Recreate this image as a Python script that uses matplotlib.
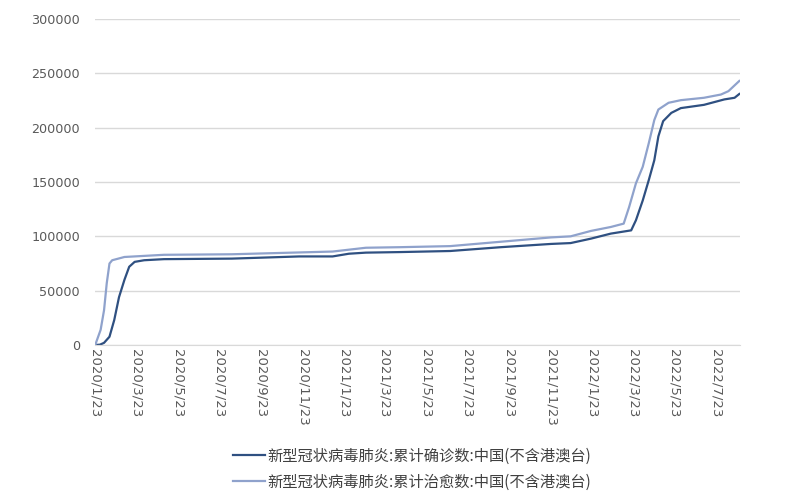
import numpy as np
import pandas as pd
import matplotlib
matplotlib.use('Agg')
import matplotlib.pyplot as plt

plt.rcParams['font.family'] = ['Noto Sans CJK SC', 'DejaVu Sans']

# 累计确诊数 (dark line)
conf_dates = ['2020-01-23', '2020-01-30', '2020-02-05', '2020-02-13', '2020-02-20', '2020-02-27',
              '2020-03-06', '2020-03-13', '2020-03-21', '2020-04-04', '2020-05-03', '2020-08-11',
              '2020-11-18', '2021-01-06', '2021-01-30', '2021-02-24', '2021-04-14', '2021-06-28',
              '2021-09-10', '2021-11-23', '2021-12-22', '2022-01-21', '2022-02-19', '2022-03-21',
              '2022-03-28', '2022-04-07', '2022-04-16', '2022-04-24', '2022-04-30', '2022-05-07',
              '2022-05-19', '2022-06-02', '2022-07-06', '2022-08-05', '2022-08-20', '2022-08-27']
conf_vals = [0, 300, 2000, 7600, 23000, 44000,
             60000, 72000, 76500, 78000, 79000, 79500,
             81500, 81500, 84000, 85000, 85500, 86500,
             90000, 93000, 93800, 97900, 102500, 105500,
             114800, 133000, 152000, 170000, 192000, 206000,
             213600, 218000, 221000, 226000, 227500, 231000]

# 累计治愈数 (light line)
cure_dates = ['2020-01-23', '2020-01-31', '2020-02-05', '2020-02-09', '2020-02-13', '2020-02-17',
              '2020-03-06', '2020-05-03', '2020-08-11', '2021-01-06', '2021-02-24', '2021-04-14',
              '2021-06-28', '2021-09-10', '2021-11-23', '2021-12-22', '2022-01-21', '2022-02-19',
              '2022-03-10', '2022-03-18', '2022-03-28', '2022-04-07', '2022-04-16', '2022-04-24',
              '2022-04-30', '2022-05-15', '2022-06-02', '2022-07-06', '2022-07-31', '2022-08-11',
              '2022-08-27']
cure_vals = [0, 14000, 32000, 57000, 75000, 78000,
             81000, 83000, 83500, 86000, 89500, 90000,
             91000, 95000, 99000, 100000, 105000, 108600,
             111700, 127000, 148800, 164000, 186000, 207000,
             216700, 222900, 225300, 227500, 230500, 233600,
             243000]

tick_labels = ['2020/1/23', '2020/3/23', '2020/5/23', '2020/7/23', '2020/9/23', '2020/11/23',
               '2021/1/23', '2021/3/23', '2021/5/23', '2021/7/23', '2021/9/23', '2021/11/23',
               '2022/1/23', '2022/3/23', '2022/5/23', '2022/7/23']

labels = ['新型冠状病毒肺炎:累计确诊数:中国(不含港澳台)',
          '新型冠状病毒肺炎:累计治愈数:中国(不含港澳台)']

conf_x = pd.to_datetime(conf_dates)
cure_x = pd.to_datetime(cure_dates)
tick_x = pd.to_datetime(tick_labels, format='%Y/%m/%d')

fig = plt.figure(figsize=(8, 5), dpi=100)
ax = fig.add_axes([0.119, 0.31, 0.806, 0.652])

ax.plot(conf_x, conf_vals, color='#2f5081', linewidth=1.6, label=labels[0])
ax.plot(cure_x, cure_vals, color='#8fa2cc', linewidth=1.6, label=labels[1])

ax.set_ylim(0, 300000)
ax.set_yticks(np.arange(0, 300001, 50000))
ax.set_xlim(tick_x[0], pd.Timestamp('2022-08-28'))
ax.set_xticks(tick_x)
ax.set_xticklabels(tick_labels, rotation=270, fontsize=9.5, color='#595959',
                   family=['DejaVu Sans'])
for t in ax.get_yticklabels():
    t.set_fontsize(9.2)
    t.set_color('#595959')
    t.set_family(['DejaVu Sans'])

ax.grid(axis='y', color='#d9d9d9', linewidth=1)
ax.set_axisbelow(True)
for s in ['top', 'right', 'left']:
    ax.spines[s].set_visible(False)
ax.spines['bottom'].set_color('#d9d9d9')
ax.tick_params(axis='x', length=0, pad=3)
ax.tick_params(axis='y', length=0, pad=11)

fig.legend(loc='center', bbox_to_anchor=(0.515, 0.062), frameon=False,
           fontsize=11, handlelength=2.1, labelspacing=0.6, handletextpad=0.2,
           labelcolor='#404040')

fig.savefig('out.png', dpi=100)
